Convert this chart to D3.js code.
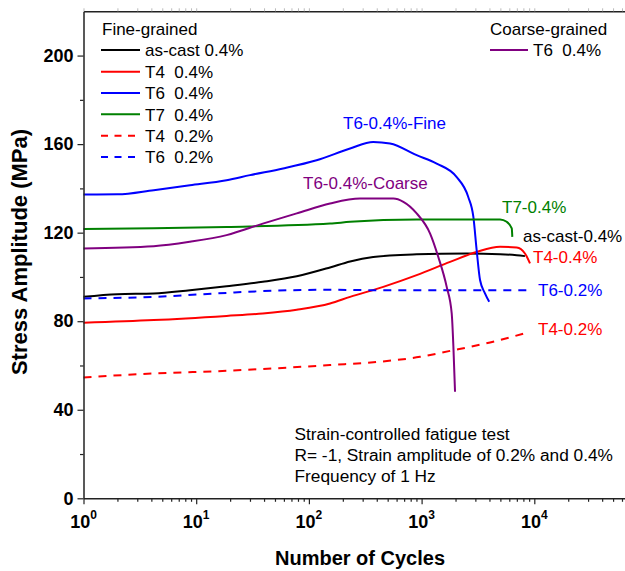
<!DOCTYPE html>
<html>
<head>
<meta charset="utf-8">
<script src="https://cdn.jsdelivr.net/npm/d3@7"></script>
<style>
  body { margin: 0; background: #fff; }
  svg { display: block; }
  text { font-family: "Liberation Sans", Arial, Helvetica, sans-serif; }
</style>
</head>
<body>
<svg id="chart" width="625" height="571"></svg>
<script>
// Cyclic stress response: number of cycles vs. stress amplitude (MPa)
const asCast04Cycles = [1, 2, 4.2, 8.8, 18.6, 39, 78, 154, 232, 372, 904, 2510, 4970, 6980, 8260];
const asCast04Stress = [91.0, 92.2, 92.5, 94.0, 95.8, 97.8, 100.3, 104.3, 107.0, 109.0, 110.2, 110.6, 110.3, 109.8, 109.4];

const t404Cycles = [1, 4.2, 18.6, 39, 78, 154, 232, 457, 904, 1790, 3080, 4970, 6980, 8260, 9160];
const t404Stress = [79.3, 80.5, 82.4, 83.5, 85.2, 88.0, 91.0, 95.5, 100.8, 106.8, 111.3, 113.6, 113.3, 110.6, 106.1];

const t604Cycles = [1, 2, 4.2, 8.8, 18.6, 30, 59, 117, 232, 372, 525, 904, 1360, 2040, 2590, 2880, 3080, 3300, 3650, 3980];
const t604Stress = [137.2, 137.3, 139.2, 141.4, 143.7, 146.0, 149.0, 152.7, 158.0, 161.0, 160.3, 155.0, 151.2, 145.2, 136.2, 127.1, 112.1, 98.6, 92.6, 88.8];

const t704Cycles = [1, 4.2, 18.6, 154, 232, 904, 4970, 5690, 6310, 6380];
const t704Stress = [121.6, 122.0, 122.6, 124.1, 124.9, 126.0, 126.0, 124.9, 121.9, 118.1];

const t402Cycles = [1, 4.2, 18.6, 154, 427, 968, 1790, 4050, 9120];
const t402Stress = [54.6, 56.4, 57.6, 60.2, 61.7, 63.9, 66.6, 70.4, 75.2];

const t602Cycles = [1, 4.2, 18.6, 39, 154, 400, 9800];
const t602Stress = [90.3, 91.0, 92.8, 93.6, 94.2, 94.0, 94.0];

const coarseT604Cycles = [1, 4.2, 8.8, 18.6, 39, 78, 154, 284, 562, 689, 904, 1190, 1405, 1670, 1850, 1915, 1980];
const coarseT604Stress = [112.9, 113.9, 115.9, 118.9, 124.1, 128.7, 133.2, 135.4, 135.4, 133.9, 128.7, 119.6, 109.1, 95.5, 83.5, 68.4, 48.1];

const yMajorTicks = [0, 40, 80, 120, 160, 200];
const yMinorTicks = [20, 60, 100, 140, 180];
const xDecadeExponents = [0, 1, 2, 3, 4];
const xMinorMultipliers = [2, 3, 4, 5, 6, 7, 8, 9];

const fineLegendLabels = ["as-cast 0.4%", "T4  0.4%", "T6  0.4%", "T7  0.4%", "T4  0.2%", "T6  0.2%"];
const coarseLegendLabels = ["T6  0.4%"];
const curveLabels = ["T6-0.4%-Fine", "T6-0.4%-Coarse", "T7-0.4%", "as-cast-0.4%", "T4-0.4%", "T6-0.2%", "T4-0.2%"];
const noteLines = ["Strain-controlled fatigue test", "R= -1, Strain amplitude of 0.2% and 0.4%", "Frequency of 1 Hz"];

const zip = (a, b) => a.map((v, i) => [v, b[i]]);

const series = [
  { key: "asCast04", pts: zip(asCast04Cycles, asCast04Stress), color: "#000000", dash: null },
  { key: "t404", pts: zip(t404Cycles, t404Stress), color: "#ff0000", dash: null },
  { key: "t604", pts: zip(t604Cycles, t604Stress), color: "#0000ff", dash: null },
  { key: "t704", pts: zip(t704Cycles, t704Stress), color: "#008000", dash: null },
  { key: "t402", pts: zip(t402Cycles, t402Stress), color: "#ff0000", dash: "8,7" },
  { key: "t602", pts: zip(t602Cycles, t602Stress), color: "#0000ff", dash: "8,7" },
  { key: "coarseT604", pts: zip(coarseT604Cycles, coarseT604Stress), color: "#800080", dash: null }
];

// Geometry
const plotLeft = 83.5, plotBottom = 498.3, plotTop = 11.3;
const decadePx = 112.7;
const xMax = 7e4;

const x = d3.scaleLog().domain([1, xMax]).range([plotLeft, plotLeft + decadePx * Math.log10(xMax)]);
const y = d3.scaleLinear().domain([0, 220]).range([plotBottom, plotTop]);

const svg = d3.select("#chart");
const axisColor = "#222";

// Curves
const line = d3.line()
  .x(d => x(d[0]))
  .y(d => y(d[1]))
  .curve(d3.curveMonotoneX);

svg.append("g").selectAll("path")
  .data(series)
  .join("path")
  .attr("d", d => line(d.pts))
  .attr("fill", "none")
  .attr("stroke", d => d.color)
  .attr("stroke-width", 2)
  .attr("stroke-dasharray", d => d.dash)
  .attr("stroke-linejoin", "round");

// Y axis
const yAxisG = svg.append("g").attr("transform", `translate(${plotLeft},0)`);
yAxisG.call(d3.axisLeft(y).tickValues(yMajorTicks).tickSize(6).tickSizeOuter(0).tickPadding(4).tickFormat(d3.format("d")));
yAxisG.append("g").call(d3.axisLeft(y).tickValues(yMinorTicks).tickSize(3.5).tickFormat(""))
  .select(".domain").remove();
yAxisG.selectAll("path.domain").attr("stroke", axisColor).attr("stroke-width", 1.5);
yAxisG.selectAll("line").attr("stroke", axisColor).attr("stroke-width", 1.2);
yAxisG.selectAll("text")
  .attr("font-size", 18).attr("font-weight", "bold").attr("fill", "#000")
  .style("font-family", "'Liberation Sans', Arial, sans-serif");

// X axis (bottom)
const majorX = xDecadeExponents.map(e => Math.pow(10, e));
const minorX = [];
xDecadeExponents.forEach(e => xMinorMultipliers.forEach(m => minorX.push(m * Math.pow(10, e))));

const xAxisG = svg.append("g").attr("transform", `translate(0,${plotBottom})`);
xAxisG.call(d3.axisBottom(x).tickValues(majorX).tickSize(6).tickSizeOuter(0).tickFormat(""));
xAxisG.append("g").call(d3.axisBottom(x).tickValues(minorX).tickSize(3.5).tickFormat(""))
  .select(".domain").remove();
xAxisG.selectAll("path.domain").attr("stroke", axisColor).attr("stroke-width", 1.5);
xAxisG.selectAll("line").attr("stroke", axisColor).attr("stroke-width", 1.2);

// Powers-of-ten labels
const xLabels = svg.append("g");
xDecadeExponents.forEach(e => {
  const t = xLabels.append("text")
    .attr("x", x(Math.pow(10, e)))
    .attr("y", 528)
    .attr("text-anchor", "middle")
    .attr("font-size", 18)
    .attr("font-weight", "bold")
    .attr("fill", "#000");
  t.append("tspan").text("10");
  t.append("tspan").attr("dy", -9).attr("font-size", 12).text(e);
});

// Top frame line with small ticks
const topG = svg.append("g").attr("transform", `translate(0,${plotTop})`);
topG.call(d3.axisTop(x).tickValues(majorX.concat(minorX)).tickSize(3).tickSizeOuter(0).tickFormat(""));
topG.selectAll("path.domain").attr("stroke", axisColor).attr("stroke-width", 1.5);
topG.selectAll("line").attr("stroke", "#bbb").attr("stroke-width", 1);

// Axis titles
svg.append("text")
  .attr("transform", "translate(27,252) rotate(-90)")
  .attr("text-anchor", "middle")
  .attr("font-size", 22)
  .attr("font-weight", "bold")
  .text("Stress Amplitude (MPa)");

svg.append("text")
  .attr("x", 360)
  .attr("y", 565)
  .attr("text-anchor", "middle")
  .attr("font-size", 20)
  .attr("font-weight", "bold")
  .text("Number of Cycles");

// Legend: fine-grained group
const legendFont = 17;
const fineLegend = svg.append("g");
fineLegend.append("text").attr("x", 102).attr("y", 35).attr("font-size", legendFont).text("Fine-grained");
const fineRowY = [50, 71.7, 92.9, 114.3, 135.8, 157];
series.slice(0, 6).forEach((s, i) => {
  fineLegend.append("line")
    .attr("x1", 101).attr("x2", 140)
    .attr("y1", fineRowY[i]).attr("y2", fineRowY[i])
    .attr("stroke", s.color).attr("stroke-width", 2)
    .attr("stroke-dasharray", s.dash ? "7,6.5" : null);
  fineLegend.append("text")
    .attr("x", 145).attr("y", fineRowY[i] + 6.3)
    .attr("font-size", legendFont)
    .style("white-space", "pre")
    .text(fineLegendLabels[i]);
});

// Legend: coarse-grained group
const coarseLegend = svg.append("g");
coarseLegend.append("text").attr("x", 490).attr("y", 35).attr("font-size", legendFont).text("Coarse-grained");
coarseLegend.append("line")
  .attr("x1", 490).attr("x2", 528).attr("y1", 50).attr("y2", 50)
  .attr("stroke", series[6].color).attr("stroke-width", 2);
coarseLegend.append("text")
  .attr("x", 533).attr("y", 56.3)
  .attr("font-size", legendFont)
  .style("white-space", "pre")
  .text(coarseLegendLabels[0]);

// Curve labels
const labelSpecs = [
  { text: curveLabels[0], x: 343, y: 129, color: "#0000ff" },
  { text: curveLabels[1], x: 303, y: 189, color: "#800080" },
  { text: curveLabels[2], x: 502, y: 213, color: "#008000" },
  { text: curveLabels[3], x: 523, y: 242, color: "#000000" },
  { text: curveLabels[4], x: 533, y: 263, color: "#ff0000" },
  { text: curveLabels[5], x: 538, y: 295.5, color: "#0000ff" },
  { text: curveLabels[6], x: 538, y: 335, color: "#ff0000" }
];
svg.append("g").selectAll("text")
  .data(labelSpecs)
  .join("text")
  .attr("x", d => d.x).attr("y", d => d.y)
  .attr("font-size", legendFont)
  .attr("fill", d => d.color)
  .text(d => d.text);

// Test-condition note
svg.append("g").selectAll("text")
  .data(noteLines)
  .join("text")
  .attr("x", 294.5)
  .attr("y", (d, i) => 440 + i * 20.8)
  .attr("font-size", 17.3)
  .text(d => d);
</script>
</body>
</html>
